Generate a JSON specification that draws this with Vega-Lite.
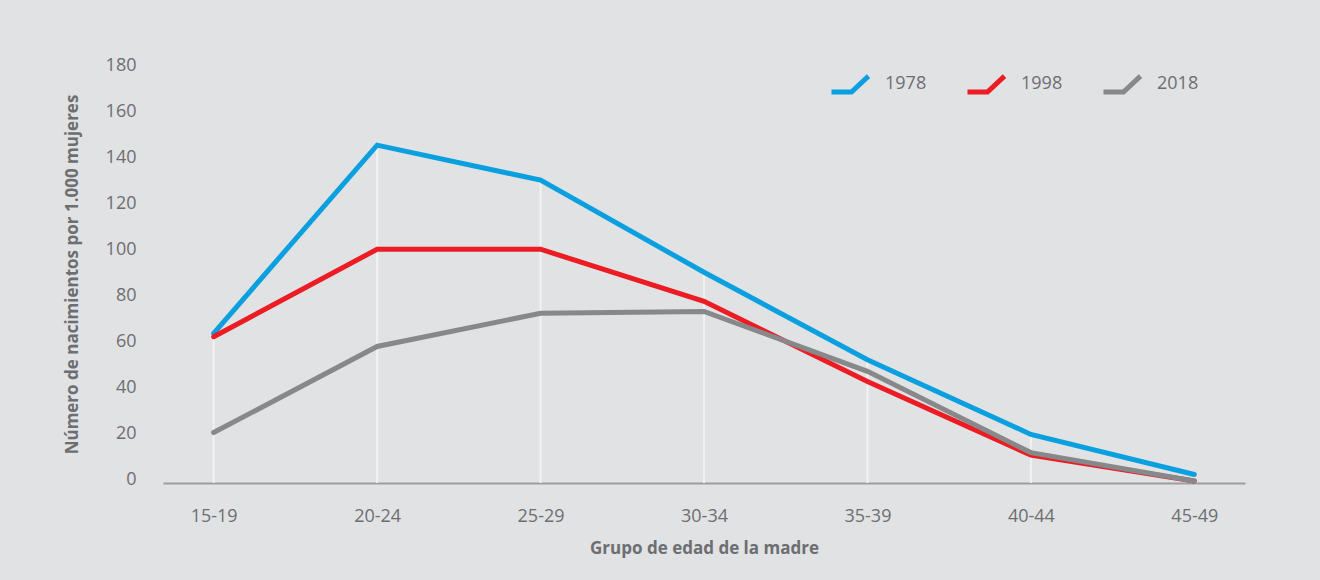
{
  "$schema": "https://vega.github.io/schema/vega-lite/v6.json",
  "width": 1082,
  "height": 418,
  "autosize": {"type": "none"},
  "padding": {"left": 163, "top": 65, "right": 75, "bottom": 97},
  "background": "#e1e2e4",
  "config": {
    "font": "Open Sans",
    "view": {"stroke": null},
    "axis": {"labelFont": "Open Sans", "titleFont": "Open Sans", "labelColor": "#6d6e71", "titleColor": "#6d6e71", "grid": false, "ticks": false}
  },
  "data": {
    "values": [
      {"edad": "15-19", "anio": "1978", "v": 63.5},
      {"edad": "20-24", "anio": "1978", "v": 145.2},
      {"edad": "25-29", "anio": "1978", "v": 130},
      {"edad": "30-34", "anio": "1978", "v": 90},
      {"edad": "35-39", "anio": "1978", "v": 52},
      {"edad": "40-44", "anio": "1978", "v": 19.6},
      {"edad": "45-49", "anio": "1978", "v": 2.2},
      {"edad": "15-19", "anio": "1998", "v": 62},
      {"edad": "20-24", "anio": "1998", "v": 100},
      {"edad": "25-29", "anio": "1998", "v": 100},
      {"edad": "30-34", "anio": "1998", "v": 77.4},
      {"edad": "35-39", "anio": "1998", "v": 42.6},
      {"edad": "40-44", "anio": "1998", "v": 10.6},
      {"edad": "45-49", "anio": "1998", "v": -0.6},
      {"edad": "15-19", "anio": "2018", "v": 20.4},
      {"edad": "20-24", "anio": "2018", "v": 57.8},
      {"edad": "25-29", "anio": "2018", "v": 72.2},
      {"edad": "30-34", "anio": "2018", "v": 73},
      {"edad": "35-39", "anio": "2018", "v": 47},
      {"edad": "40-44", "anio": "2018", "v": 11.7},
      {"edad": "45-49", "anio": "2018", "v": -0.6}
    ]
  },
  "encoding": {
    "x": {
      "field": "edad",
      "type": "ordinal",
      "scale": {"type": "point", "padding": 0.31},
      "axis": {
        "title": "Grupo de edad de la madre",
        "labelAngle": 0,
        "labelFontSize": 18,
        "labelPadding": 24,
        "titleFontSize": 17,
        "titleFontWeight": "bold",
        "titlePadding": 15,
        "domain": true,
        "domainColor": "#9d9ea0",
        "domainWidth": 2
      }
    }
  },
  "layer": [
    {
      "transform": [{"aggregate": [{"op": "max", "field": "v", "as": "mx"}], "groupby": ["edad"]}],
      "mark": {"type": "rule", "color": "#f2f2f3", "strokeWidth": 2},
      "encoding": {
        "y": {"field": "mx", "type": "quantitative"},
        "y2": {"datum": -1.5}
      }
    },
    {
      "mark": {"type": "line", "strokeWidth": 5, "strokeCap": "round", "strokeJoin": "miter"},
      "encoding": {
        "y": {
          "field": "v",
          "type": "quantitative",
          "scale": {"domain": [-1.5, 180], "nice": false, "zero": false},
          "axis": {
            "title": "Número de nacimientos por 1.000 mujeres",
            "values": [0, 20, 40, 60, 80, 100, 120, 140, 160, 180],
            "domain": false,
            "labelFontSize": 18,
            "labelPadding": 27,
            "titleFontSize": 17,
            "titleFontWeight": "bold",
            "titlePadding": 24
          }
        },
        "color": {
          "field": "anio",
          "type": "nominal",
          "scale": {"domain": ["1978", "1998", "2018"], "range": ["#0aa0e0", "#ec1c24", "#87888a"]},
          "legend": {
            "title": null,
            "orient": "none",
            "direction": "horizontal",
            "legendX": 666,
            "legendY": -2,
            "padding": 0,
            "symbolType": "M-1,0.43L0.08,0.43L1,-0.43",
            "symbolSize": 1369,
            "symbolStrokeWidth": 5,
            "symbolFillColor": "transparent",
            "labelFontSize": 18,
            "labelColor": "#6d6e71",
            "labelFont": "Open Sans",
            "labelOffset": 14,
            "columnPadding": 30
          }
        }
      }
    }
  ]
}
